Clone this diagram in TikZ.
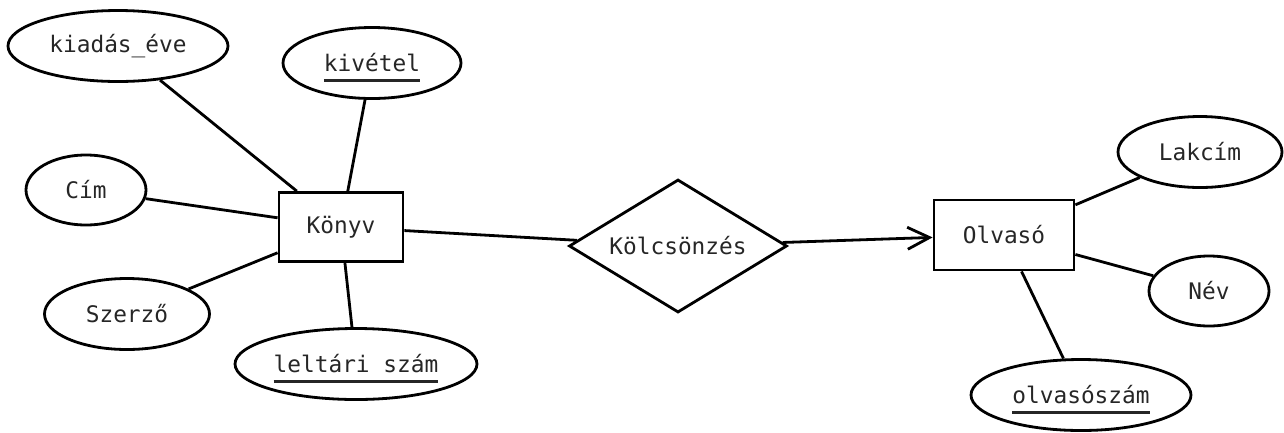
\documentclass[tikz,border=0pt]{standalone}
\usepackage{fontspec}
\setmonofont{DejaVu Sans Mono}
\usetikzlibrary{shapes.geometric,arrows.meta}
\newcommand\keyul[1]{\setbox0\hbox{#1}\rlap{\smash{\raisebox{-10pt}{\rule{\wd0}{3pt}}}}\box0}
\begin{document}
\begin{tikzpicture}[x=1pt,y=-1pt,
  every node/.style={font=\ttfamily\fontsize{22.8pt}{27pt}\selectfont, text=black!85, line width=2.8pt, draw=black, inner sep=0pt},
  attr/.style={ellipse},
  entity/.style={rectangle},
  rel/.style={diamond, shape aspect=1.63},
  conn/.style={line width=2.8pt, black}]
\useasboundingbox (0,0) rectangle (1284,432);
% entities
\node[entity, minimum width=124, minimum height=69] (konyv) at (341,227) {Könyv};
\node[entity, minimum width=140, minimum height=70] (olvaso) at (1004,235) {Olvasó};
% relationship
\node[rel, minimum width=218, minimum height=133] (kolcs) at (678,246) {Kölcsönzés};
% attributes of Könyv
\node[attr, minimum width=220, minimum height=71] (kiadas) at (118,46) {kiadás\_éve};
\node[attr, minimum width=178, minimum height=71] (kivetel) at (372,63) {\keyul{kivétel}};
\node[attr, minimum width=120, minimum height=70] (cim) at (86,190) {Cím};
\node[attr, minimum width=165, minimum height=71] (szerzo) at (127,314) {Szerző};
\node[attr, minimum width=242, minimum height=71] (leltari) at (356,364) {\keyul{leltári szám}};
% attributes of Olvasó
\node[attr, minimum width=164, minimum height=71] (lakcim) at (1200,152) {Lakcím};
\node[attr, minimum width=120, minimum height=70] (nev) at (1209,291) {Név};
\node[attr, minimum width=220, minimum height=71] (olvszam) at (1081,395) {\keyul{olvasószám}};
% connectors
\draw[conn] (kiadas) -- (konyv);
\draw[conn] (kivetel) -- (konyv);
\draw[conn] (cim) -- (konyv);
\draw[conn] (szerzo) -- (konyv);
\draw[conn] (leltari) -- (konyv);
\draw[conn] (konyv) -- (kolcs);
\draw[conn, -{Straight Barb[length=22pt,width=22pt,line width=2.8pt]}] (kolcs) -- (olvaso);
\draw[conn] (olvaso) -- (lakcim);
\draw[conn] (olvaso) -- (nev);
\draw[conn] (olvaso) -- (olvszam);
\end{tikzpicture}
\end{document}
